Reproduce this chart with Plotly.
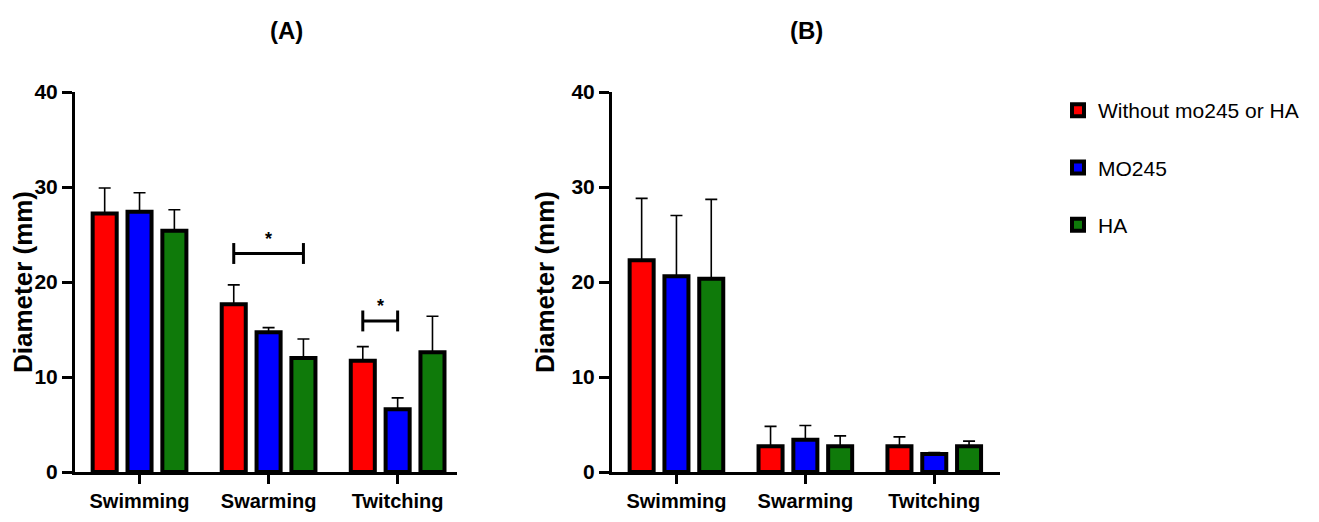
import plotly.graph_objects as go

categories = ["Swimming", "Swarming", "Twitching"]
series_names = ["Without mo245 or HA", "MO245", "HA"]
series_colors = ["#ff0000", "#0000ff", "#0f7a0a"]

# Panel A
a_values = {
    "Without mo245 or HA": [27.2, 17.65, 11.7],
    "MO245": [27.4, 14.7, 6.6],
    "HA": [25.4, 12.0, 12.6],
}
a_errors = {
    "Without mo245 or HA": [2.7, 2.05, 1.5],
    "MO245": [2.0, 0.5, 1.2],
    "HA": [2.2, 2.0, 3.8],
}
# Panel B
b_values = {
    "Without mo245 or HA": [22.3, 2.7, 2.7],
    "MO245": [20.6, 3.4, 1.9],
    "HA": [20.35, 2.7, 2.7],
}
b_errors = {
    "Without mo245 or HA": [6.5, 2.1, 1.0],
    "MO245": [6.4, 1.5, 0.15],
    "HA": [8.35, 1.1, 0.55],
}
y_ticks = [0, 10, 20, 30, 40]
# significance brackets in panel A: (category index, from series, to series, height)
brackets = [(1, 0, 2, 23.0), (2, 0, 1, 15.9)]

BARGAP = 0.19
GROUPGAP = 0.31
slot = (1 - BARGAP) / len(series_names)

W, H = 1303, 506   # page body has an 8px margin
OFF = 8
def px(x):
    return (x - OFF) / W
def py(y):
    return 1 - (y - OFF) / H

font_main = "Liberation Sans, Arial"
fig = go.Figure()
xs = list(range(len(categories)))

for panel, (vals, errs) in enumerate([(a_values, a_errors), (b_values, b_errors)]):
    xa = "x" if panel == 0 else "x2"
    ya = "y" if panel == 0 else "y2"
    for i, name in enumerate(series_names):
        fig.add_trace(go.Bar(
            x=xs, y=vals[name], name=name, xaxis=xa, yaxis=ya,
            marker=dict(color=series_colors[i], line=dict(color="black", width=4)),
            error_y=dict(type="data", array=errs[name], arrayminus=[0] * len(xs),
                         color="black", thickness=1.6, width=6),
            showlegend=(panel == 0), legendgroup=name,
        ))

for ci, s0, s1, h in brackets:
    x0 = ci + (s0 - 1) * slot
    x1 = ci + (s1 - 1) * slot
    line = dict(color="black", width=3)
    fig.add_shape(type="line", x0=x0, x1=x1, y0=h, y1=h, xref="x", yref="y", line=line)
    fig.add_shape(type="line", x0=x0, x1=x0, y0=h - 1.1, y1=h + 1.1, xref="x", yref="y", line=line)
    fig.add_shape(type="line", x0=x1, x1=x1, y0=h - 1.1, y1=h + 1.1, xref="x", yref="y", line=line)
    fig.add_annotation(x=(x0 + x1) / 2, y=h + 0.3, xref="x", yref="y", text="<b>*</b>",
                       showarrow=False, yanchor="bottom",
                       font=dict(size=18, color="black", family=font_main))

ydom = [py(472), py(92)]
common_x = dict(tickmode="array", tickvals=xs, ticktext=categories, showline=True,
                linecolor="black", linewidth=3, ticks="outside", ticklen=9, tickwidth=3,
                tickcolor="black", showgrid=False, zeroline=False, automargin=False,
                tickfont=dict(family=font_main, size=20, color="black", weight="bold"))
common_y = dict(range=[0, 40], tickvals=y_ticks, showline=True, linecolor="black",
                linewidth=3, ticks="outside", ticklen=10, tickwidth=3, tickcolor="black",
                showgrid=False, zeroline=False, automargin=False, domain=ydom,
                tickfont=dict(family=font_main, size=21, color="black", weight="bold"),
                title=dict(text="<b>Diameter (mm)</b>", standoff=10,
                           font=dict(family=font_main, size=26, color="black")))

fig.update_layout(
    width=W, height=H,
    margin=dict(l=0, r=0, t=0, b=0),
    paper_bgcolor="white", plot_bgcolor="white",
    barmode="group", bargap=BARGAP, bargroupgap=GROUPGAP,
    xaxis=dict(domain=[px(75), px(457)], range=[-0.5, 2.46], anchor="y", **common_x),
    xaxis2=dict(domain=[px(612), px(1000)], range=[-0.5, 2.51], anchor="y2", **common_x),
    yaxis=dict(anchor="x", **common_y),
    yaxis2=dict(anchor="x2", **common_y),
    legend=dict(x=px(1058), y=py(90), xanchor="left", yanchor="top",
                font=dict(family=font_main, size=21, color="black"),
                tracegroupgap=27, itemwidth=30, bgcolor="rgba(0,0,0,0)"),
    showlegend=True,
    annotations=list(fig.layout.annotations) + [
        dict(text="<b>(A)</b>", x=px(268), y=py(31), xref="paper", yref="paper",
             yanchor="middle", showarrow=False,
             font=dict(family=font_main, size=24, color="black")),
        dict(text="<b>(B)</b>", x=px(806), y=py(31), xref="paper", yref="paper",
             yanchor="middle", showarrow=False,
             font=dict(family=font_main, size=24, color="black")),
    ],
)

fig.write_html("out.html")
